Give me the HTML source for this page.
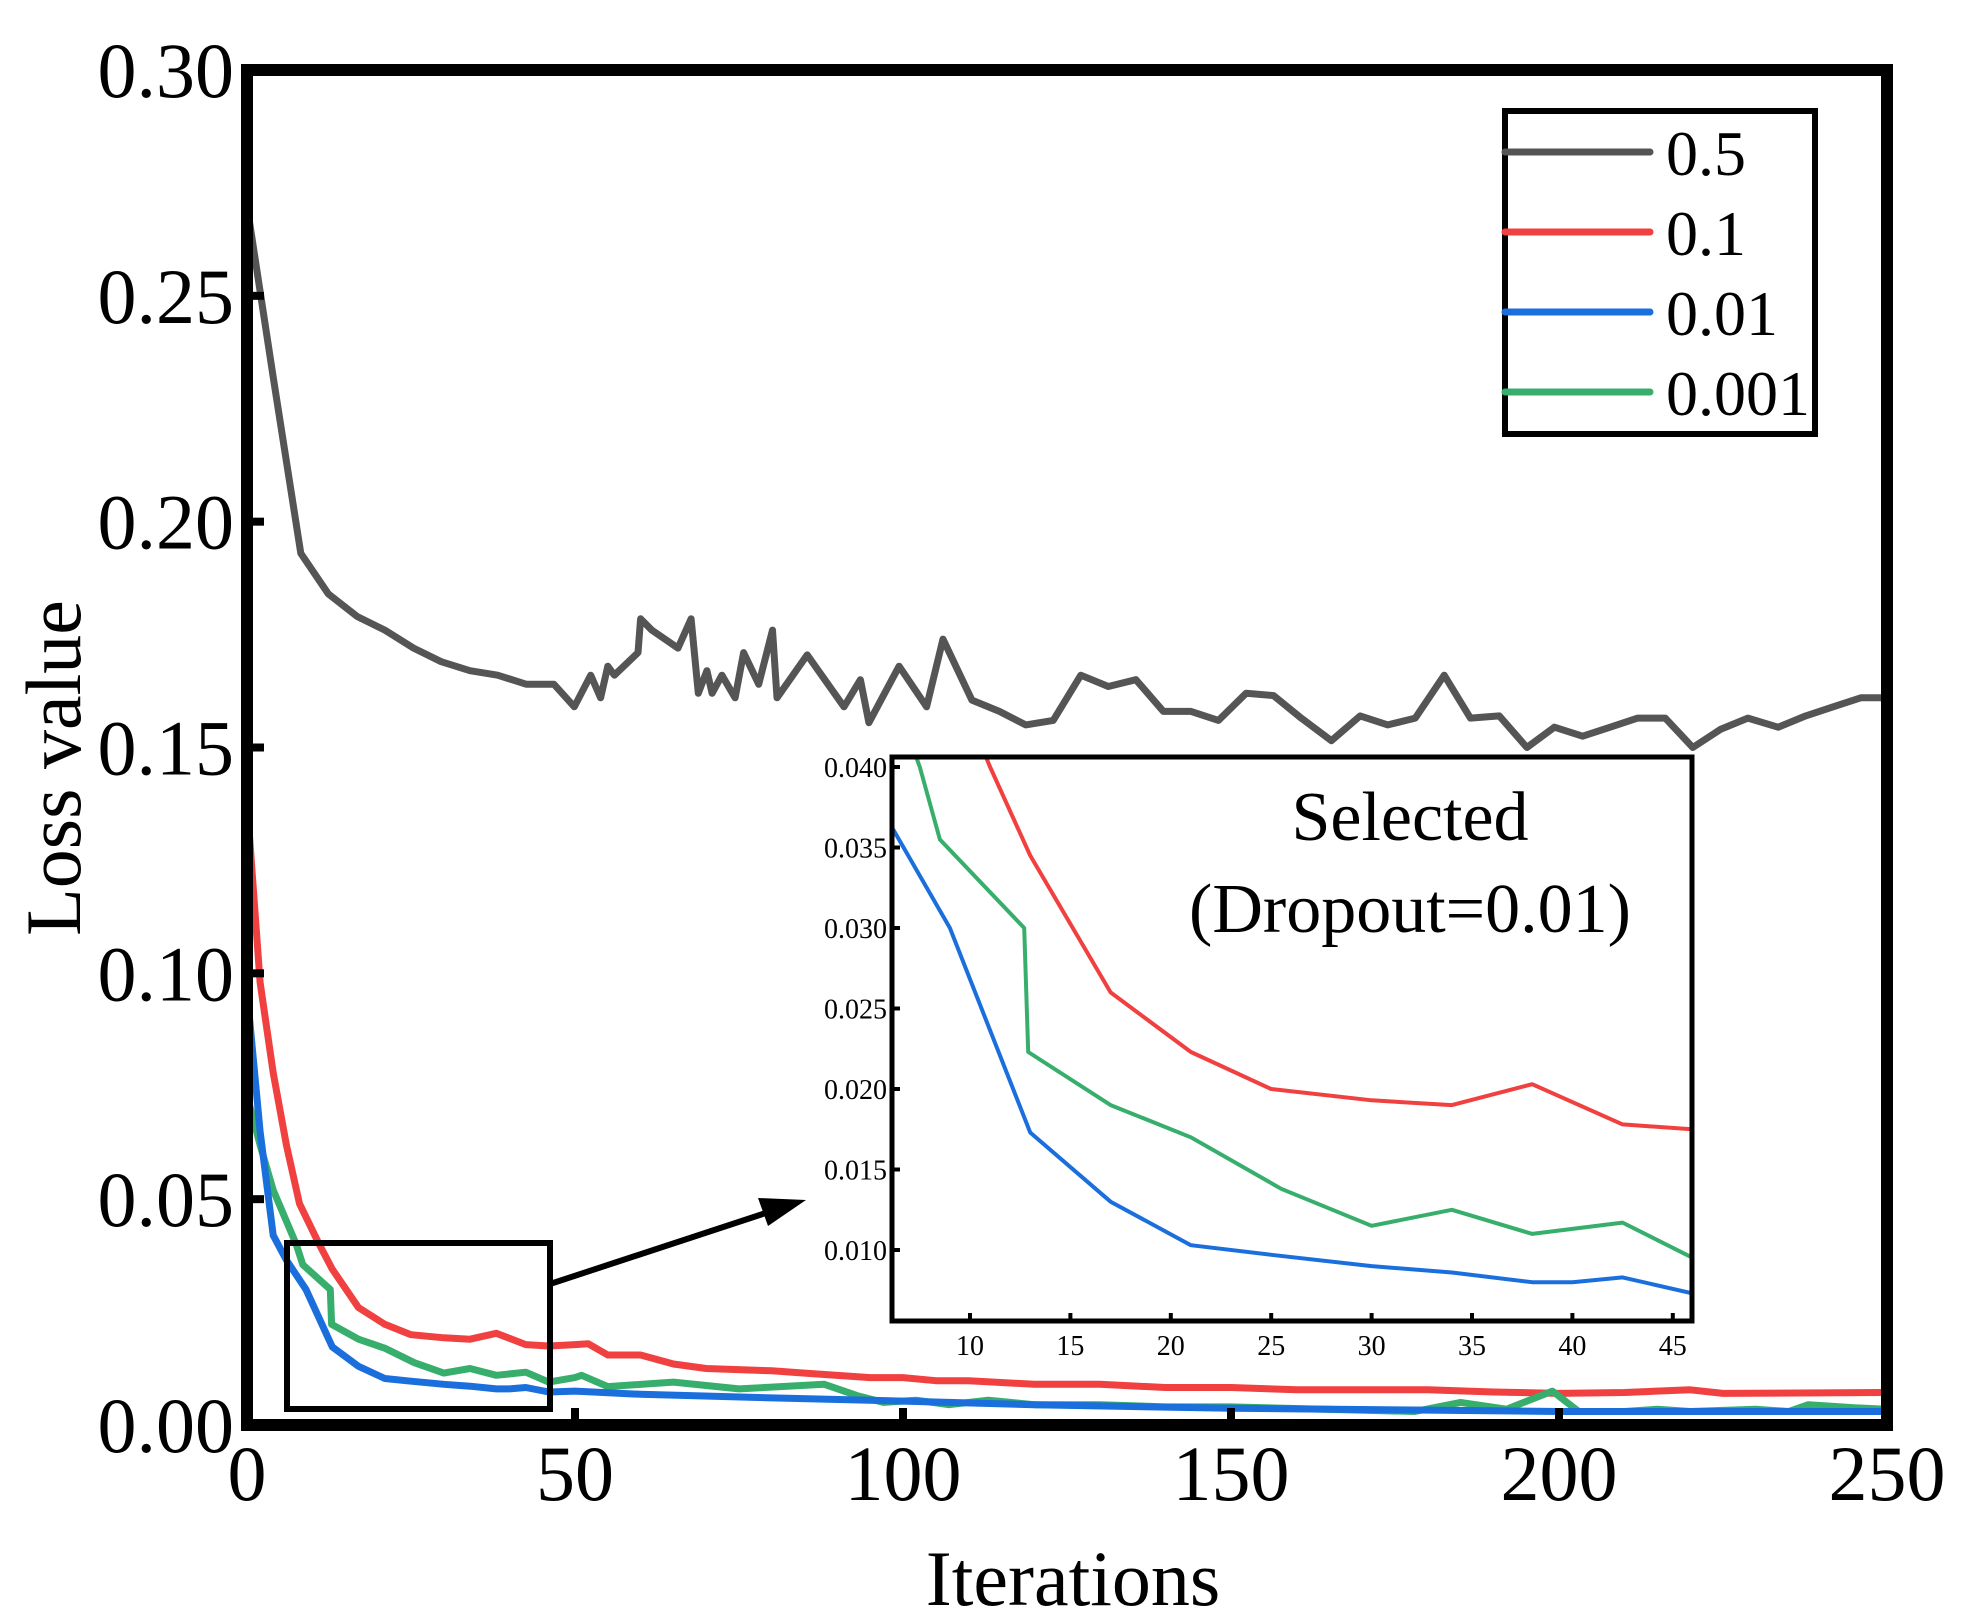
<!DOCTYPE html>
<html><head><meta charset="utf-8"><style>
html,body{margin:0;padding:0;background:#fff;}
svg{display:block;font-family:"Liberation Serif",serif;}
</style></head><body>
<svg id="chart" width="1964" height="1624" viewBox="0 0 1964 1624">
<defs>
<clipPath id="mainClip"><rect x="253" y="76" width="1628" height="1343"/></clipPath>
<clipPath id="insetClip"><rect x="894" y="759" width="796" height="560"/></clipPath>
</defs>
<g id="mainLines" clip-path="url(#mainClip)"></g>
<rect x="247" y="70" width="1640" height="1355" fill="none" stroke="#000" stroke-width="12"/>
<g id="mainTicks"></g>
<text x="1073" y="1605" font-size="78" text-anchor="middle">Iterations</text>
<text transform="translate(80,768) rotate(-90)" font-size="78" text-anchor="middle">Loss value</text>

<rect x="287" y="1243" width="263" height="166" fill="none" stroke="#000" stroke-width="6"/>
<line x1="550" y1="1284" x2="775" y2="1210" stroke="#000" stroke-width="6"/>
<polygon points="806,1200 758,1198 768,1226" fill="#000"/>

<rect x="892" y="757" width="800" height="564" fill="#fff"/>
<g id="insetLines" clip-path="url(#insetClip)"></g>
<rect x="892" y="757" width="800" height="564" fill="none" stroke="#000" stroke-width="5"/>
<g id="insetTicks"></g>
<text x="1410" y="840" font-size="70" text-anchor="middle">Selected</text>
<text x="1410" y="932" font-size="70" text-anchor="middle">(Dropout=0.01)</text>

<g>
<rect x="1505" y="111" width="310" height="323" fill="#fff" stroke="#000" stroke-width="6"/>
<g id="legendEntries"></g>
</g>
</svg>
<script>
const xTicks=[0,50,100,150,200,250];
const yTicks=[0,0.05,0.10,0.15,0.20,0.25,0.30];
const yTickLabels=["0.00","0.05","0.10","0.15","0.20","0.25","0.30"];
const insetXTicks=[10,15,20,25,30,35,40,45];
const insetYTicks=[0.010,0.015,0.020,0.025,0.030,0.035,0.040];
const insetYTickLabels=["0.010","0.015","0.020","0.025","0.030","0.035","0.040"];
const seriesNames=["0.5","0.1","0.01","0.001"];
const seriesColors=["#555555","#f04040","#1a6fdc","#38ae6c"];

const grayX=[0,4,8.2,12.4,16.8,21,25.4,29.6,34,38.2,42.6,46.8,49.9,52.4,53.9,55,56,59.6,60,61.7,65.7,67.7,68.8,70.1,70.9,72.4,74.4,75.7,78,80.1,80.8,85.4,91,93.5,94.8,99.4,103.6,106.1,110.5,114.7,118.7,122.9,127.1,131.3,135.5,139.7,143.9,148.1,152.3,156.5,160.7,165.3,169.7,173.9,178.1,182.5,186.5,190.9,195.1,199.3,203.6,207.8,212,216.2,220.4,224.6,228.8,233.4,237.6,241.8,246,250];
const grayY=[0.270,0.232,0.193,0.184,0.179,0.176,0.172,0.169,0.167,0.166,0.164,0.164,0.159,0.166,0.161,0.168,0.166,0.171,0.1785,0.176,0.172,0.1785,0.162,0.167,0.162,0.166,0.161,0.171,0.164,0.176,0.161,0.1705,0.159,0.165,0.1555,0.168,0.159,0.174,0.1605,0.158,0.155,0.156,0.166,0.1635,0.165,0.158,0.158,0.156,0.162,0.1615,0.1565,0.1515,0.157,0.155,0.1565,0.166,0.1565,0.157,0.150,0.1545,0.1525,0.1545,0.1565,0.1565,0.150,0.154,0.1565,0.1545,0.157,0.159,0.161,0.161];

const redX=[0,2,4,6,8,11,13,17,21,25,30,34,38,42.5,46,50,52,55,60,65,70,80,85,95,100,105,110,120,130,140,150,160,180,190,200,210,220,225,250];
const redY=[0.138,0.098,0.078,0.062,0.049,0.040,0.0345,0.026,0.0223,0.020,0.0193,0.019,0.0203,0.0178,0.0175,0.0178,0.018,0.0155,0.0155,0.0135,0.0125,0.012,0.0115,0.0105,0.0105,0.0098,0.0098,0.009,0.009,0.0083,0.0083,0.0078,0.0078,0.0073,0.007,0.0072,0.0078,0.007,0.0072];

const blueX=[0,2,4,6,9,13,17,21,25,30,34,38,40,42.5,46,50,60,80,100,120,150,180,200,220,250];
const blueY=[0.096,0.065,0.042,0.0365,0.030,0.0173,0.013,0.0103,0.0097,0.009,0.0086,0.008,0.008,0.0083,0.0073,0.0075,0.0068,0.006,0.0053,0.0045,0.0037,0.0033,0.003,0.003,0.003];

const greenX=[0,2,4,7.5,8.5,12.7,12.9,17,21,25.5,30,34,38,42.5,46,50,51,55,65,75,88,93,97,102,107,113,120,130,140,150,178,185,192,199,203,210,215,220,230,235,238,245,250];
const greenY=[0.073,0.062,0.052,0.040,0.0355,0.030,0.0223,0.019,0.017,0.0138,0.0115,0.0125,0.011,0.0117,0.0095,0.0105,0.011,0.0085,0.0095,0.008,0.009,0.0065,0.005,0.0055,0.0045,0.0055,0.0045,0.0045,0.004,0.004,0.003,0.005,0.0035,0.0075,0.003,0.003,0.0035,0.003,0.0035,0.003,0.0045,0.0038,0.0035];

const allX=[grayX,redX,blueX,greenX];
const allY=[grayY,redY,blueY,greenY];
const NS="http://www.w3.org/2000/svg";
function sx(v){return 247+v*(1640/250);}
function sy(v){return 1425-v*(1355/0.30);}
function ix(v){return 970+(v-10)*(100.4/5);}
function iy(v){return 1250-(v-0.010)*16100;}
function mk(tag,parent,attrs){const e=document.createElementNS(NS,tag);for(const k in attrs)e.setAttribute(k,attrs[k]);parent.appendChild(e);return e;}

const mainG=document.getElementById('mainLines');
const insG=document.getElementById('insetLines');
const order=[0,1,3,2];
order.forEach(s=>{
  const xs=allX[s],ys=allY[s];
  const d=xs.map((x,i)=>(i?'L':'M')+sx(x).toFixed(1)+','+sy(ys[i]).toFixed(1)).join(' ');
  const p=mk('path',mainG,{d:d,fill:'none',stroke:seriesColors[s],'stroke-width':7,'stroke-linejoin':'round'});
  
  
  if(s>0){
    const d2=xs.map((x,i)=>(i?'L':'M')+ix(x).toFixed(1)+','+iy(ys[i]).toFixed(1)).join(' ');
    const q=mk('path',insG,{d:d2,fill:'none',stroke:seriesColors[s],'stroke-width':4,'stroke-linejoin':'round'});
    
    
  }
});

const tg=document.getElementById('mainTicks');
xTicks.forEach(v=>{
  const l=mk('line',tg,{x1:sx(v),x2:sx(v),y1:1419,y2:1408,stroke:'#000','stroke-width':8});
  
  
  const t=mk('text',tg,{x:sx(v),y:1500,'font-size':78,'text-anchor':'middle'});
  t.textContent=String(v);
  
  
});
yTicks.forEach((v,i)=>{
  const l=mk('line',tg,{x1:253,x2:264,y1:sy(v),y2:sy(v),stroke:'#000','stroke-width':8});
  
  
  const t=mk('text',tg,{x:234,y:sy(v)+27,'font-size':78,'text-anchor':'end'});
  t.textContent=yTickLabels[i];
  
  
});

const itg=document.getElementById('insetTicks');
insetXTicks.forEach(v=>{
  const l=mk('line',itg,{x1:ix(v),x2:ix(v),y1:1319,y2:1313,stroke:'#000','stroke-width':4});
  
  
  const t=mk('text',itg,{x:ix(v),y:1355,'font-size':28,'text-anchor':'middle'});
  t.textContent=String(v);
  
  
});
insetYTicks.forEach((v,i)=>{
  const l=mk('line',itg,{x1:894,x2:900,y1:iy(v),y2:iy(v),stroke:'#000','stroke-width':4});
  
  
  const t=mk('text',itg,{x:887,y:iy(v)+10,'font-size':28,'text-anchor':'end'});
  t.textContent=insetYTickLabels[i];
  
  
});

const lg=document.getElementById('legendEntries');
seriesNames.forEach((n,i)=>{
  const y=152+i*80;
  const l=mk('line',lg,{x1:1505,x2:1650,y1:y,y2:y,stroke:seriesColors[i],'stroke-width':7,'stroke-linecap':'round'});
  
  
  const t=mk('text',lg,{x:1666,y:y+23,'font-size':64});
  t.textContent=n;
  
  
});
</script>
</body></html>
